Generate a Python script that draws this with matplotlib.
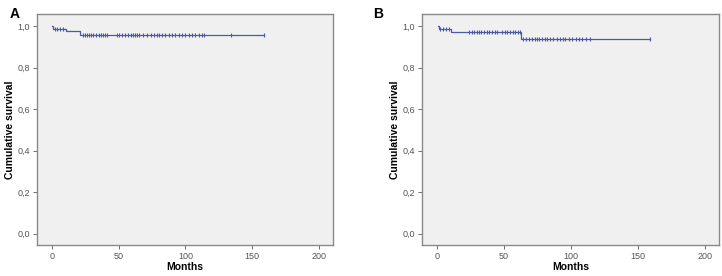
import matplotlib
matplotlib.use("Agg")
import matplotlib.pyplot as plt
from matplotlib.ticker import FuncFormatter

plt.rcParams['font.family'] = ['Liberation Sans', 'DejaVu Sans']

# Panel A: step times and survival levels
a_times = [0, 0.8, 10.5, 21, 159]
a_surv = [1.0, 0.988, 0.975, 0.955, 0.955]
a_censor = [2, 4, 6, 8.5, 23.5, 25, 26.5, 28, 29.5, 31, 33, 35, 37, 38.5, 40, 41.5,
            48.5, 50.5, 52.4, 54.4, 56.9, 58.9, 60.4, 61.9, 63.4, 64.9, 67.9, 70.9,
            73.9, 76.4, 78.9, 80.4, 82.4, 84.9, 87.4, 89.9, 92.4, 94.9, 97.4, 99.9,
            102.4, 104.9, 107.4, 109.9, 112.4, 113.9, 133.8, 158.8]

# Panel B
b_times = [0.5, 1.2, 10.5, 62.9, 159]
b_surv = [1.0, 0.988, 0.973, 0.939, 0.939]
b_censor = [2.3, 4.5, 7, 9, 24.2, 26, 27.7, 29.5, 31.2, 33, 35, 37, 39, 41, 43, 44.5,
            48.5, 50.5, 52.5, 54.5, 56.5, 58.5, 60.5, 62, 64.4, 66.4, 68.4, 70.9,
            72.9, 74.9, 76.4, 78.4, 80.4, 82.4, 84.4, 86.9, 89.4, 91.9, 93.9, 95.9,
            98.4, 100.9, 103.4, 105.9, 108.4, 110.9, 113.9, 159.3]

x_ticks = [0, 50, 100, 150, 200]
y_ticks = [0.0, 0.2, 0.4, 0.6, 0.8, 1.0]
panel_labels = ["A", "B"]

line_color = "#4a5aa6"

def step_value(times, surv, t):
    v = surv[0]
    for ti, si in zip(times, surv):
        if t >= ti:
            v = si
    return v

fig = plt.figure(figsize=(7.22, 2.76), dpi=100)
axA = fig.add_axes([37/722, 31/276, 296/722, 231/276])
axB = fig.add_axes([422/722, 31/276, 297/722, 231/276])

for ax, times, surv, cens, lab, lx in [
        (axA, a_times, a_surv, a_censor, panel_labels[0], 10/722),
        (axB, b_times, b_surv, b_censor, panel_labels[1], 373/722)]:
    ax.set_facecolor("#f0f0f0")
    ax.step(times, surv, where="post", color=line_color, lw=0.9)
    cy = [step_value(times, surv, t) for t in cens]
    ax.plot(cens, cy, ls="none", marker="|", ms=3.5, mew=0.8, color=line_color)
    ax.set_xlim(-11.2, 210.5)
    ax.set_ylim(-0.054, 1.058)
    ax.set_xticks(x_ticks)
    ax.set_yticks(y_ticks)
    ax.yaxis.set_major_formatter(FuncFormatter(lambda v, p: f"{v:.1f}".replace(".", ",")))
    ax.tick_params(axis="both", direction="out", length=3, width=0.6,
                   labelsize=6.5, colors="#555555", pad=2)
    for s in ax.spines.values():
        s.set_color("#8a8a8a")
        s.set_linewidth(1.0)
    ax.set_xlabel("Months", fontsize=7.5, fontweight="bold")
    ax.xaxis.set_label_coords(0.5, -0.072)
    ax.set_ylabel("Cumulative survival", fontsize=7.5, fontweight="bold")
    ax.yaxis.set_label_coords(-0.074, 0.5)
    fig.text(lx, 0.975, lab, fontsize=10, fontweight="bold", va="top", ha="left")

fig.savefig("out.png", dpi=100)
